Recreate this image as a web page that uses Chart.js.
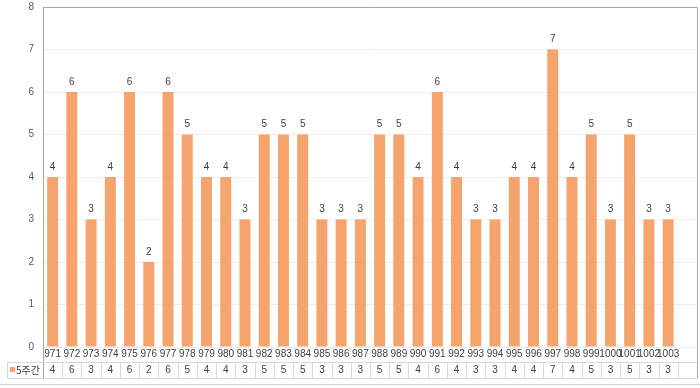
<!DOCTYPE html>
<html>
<head>
<meta charset="utf-8">
<script src="https://cdn.jsdelivr.net/npm/chart.js@4/dist/chart.umd.min.js"></script>
<style>
  html, body { margin: 0; padding: 0; background: #fff; }
  #wrap { width: 700px; height: 388px; }
</style>
</head>
<body>
<div id="wrap"><canvas id="chart" width="700" height="388"></canvas></div>
<script>
// categories (last slot is an empty column, like the original)
var categories = ['971','972','973','974','975','976','977','978','979','980','981','982','983','984','985','986','987','988','989','990','991','992','993','994','995','996','997','998','999','1000','1001','1002','1003',''];
var seriesName = '5주간';
var values = [4,6,3,4,6,2,6,5,4,4,3,5,5,5,3,3,3,5,5,4,6,4,3,3,4,4,7,4,5,3,5,3,3];
var yTicks = [0,1,2,3,4,5,6,7,8];

var barColor = '#f4a46c';
var textColor = '#404040';
var lineColor = '#d9d9d9';
var numFont = '10px "Liberation Sans", Arial, sans-serif';

// draws bar value labels, plot border and the data table under the axis
var tablePlugin = {
    id: 'tablePlugin',
    afterDraw: function (chart) {
        var ctx = chart.ctx;
        var area = chart.chartArea;
        var x = chart.scales.x;
        var row1 = area.bottom;       // axis line
        var row2 = row1 + 15;         // divider between label row and value row
        var row3 = row2 + 16;         // table bottom
        var left = 7;

        ctx.save();

        // plot border top / right
        ctx.strokeStyle = '#a6a6a6';
        ctx.lineWidth = 1;
        ctx.beginPath();
        ctx.moveTo(area.left, area.top + 0.5);
        ctx.lineTo(area.right + 0.5, area.top + 0.5);
        ctx.lineTo(area.right + 0.5, row3);
        ctx.moveTo(area.left + 0.5, area.bottom);
        ctx.lineTo(area.left + 0.5, row3);
        ctx.stroke();

        // value labels above bars
        var meta = chart.getDatasetMeta(0);
        ctx.fillStyle = textColor;
        ctx.font = numFont;
        ctx.textAlign = 'center';
        ctx.textBaseline = 'middle';
        meta.data.forEach(function (bar, i) {
            if (values[i] == null) return;
            ctx.fillText(String(values[i]), bar.x, bar.y - 10);
        });

        // table grid
        ctx.strokeStyle = lineColor;
        ctx.beginPath();
        ctx.moveTo(left, row2 + 0.5);
        ctx.lineTo(area.right, row2 + 0.5);
        ctx.moveTo(left, row3 + 0.5);
        ctx.lineTo(area.right, row3 + 0.5);
        ctx.moveTo(left + 0.5, row2);
        ctx.lineTo(left + 0.5, row3);
        var step = x.getPixelForValue(1) - x.getPixelForValue(0);
        for (var i = 1; i < categories.length; i++) {
            var bx = Math.round(x.getPixelForValue(i) - step / 2) + 0.5;
            ctx.moveTo(bx, row2);
            ctx.lineTo(bx, row3);
        }
        ctx.stroke();

        // outer bottom line
        ctx.strokeStyle = '#d4d4d4';
        ctx.beginPath();
        ctx.moveTo(0, row3 + 6.5);
        ctx.lineTo(chart.width, row3 + 6.5);
        ctx.stroke();

        // legend key in the table
        ctx.fillStyle = barColor;
        ctx.fillRect(left + 3, row2 + 5, 5, 5);
        ctx.fillStyle = textColor;
        ctx.textAlign = 'left';
        ctx.font = '10px "Noto Sans CJK KR", sans-serif';
        ctx.fillText(seriesName, left + 9, row2 + 8.5);

        // values row
        ctx.font = numFont;
        ctx.textAlign = 'center';
        values.forEach(function (v, i) {
            ctx.fillText(String(v), x.getPixelForValue(i), row2 + 8.5);
        });

        ctx.restore();
    }
};

new Chart(document.getElementById('chart'), {
    type: 'bar',
    data: {
        labels: categories,
        datasets: [{
            label: seriesName,
            data: values,
            backgroundColor: barColor,
            barPercentage: 0.57,
            categoryPercentage: 1.0
        }]
    },
    options: {
        responsive: false,
        animation: false,
        layout: { padding: { left: 0, right: 3, top: 7, bottom: 0 } },
        plugins: {
            legend: { display: false },
            tooltip: { enabled: false }
        },
        scales: {
            x: {
                grid: { display: false, drawTicks: false },
                border: { display: false },
                ticks: {
                    autoSkip: false,
                    maxRotation: 0,
                    minRotation: 0,
                    padding: 1,
                    color: textColor,
                    font: { family: '"Liberation Sans", Arial, sans-serif', size: 10 }
                },
                afterFit: function (scale) {
                    scale.height = 41;
                    scale.paddingLeft = 0;
                    scale.paddingRight = 0;
                }
            },
            y: {
                min: 0,
                max: 8,
                afterBuildTicks: function (scale) {
                    scale.ticks = yTicks.map(function (v) { return { value: v }; });
                },
                grid: { color: '#ededed', drawTicks: false },
                border: { color: '#a6a6a6' },
                ticks: {
                    padding: 9,
                    color: '#595959',
                    font: { family: '"Liberation Sans", Arial, sans-serif', size: 10 }
                },
                afterFit: function (scale) {
                    scale.width = 43;
                    scale.paddingTop = 0;
                    scale.paddingBottom = 0;
                }
            }
        }
    },
    plugins: [tablePlugin]
});
</script>
</body>
</html>
